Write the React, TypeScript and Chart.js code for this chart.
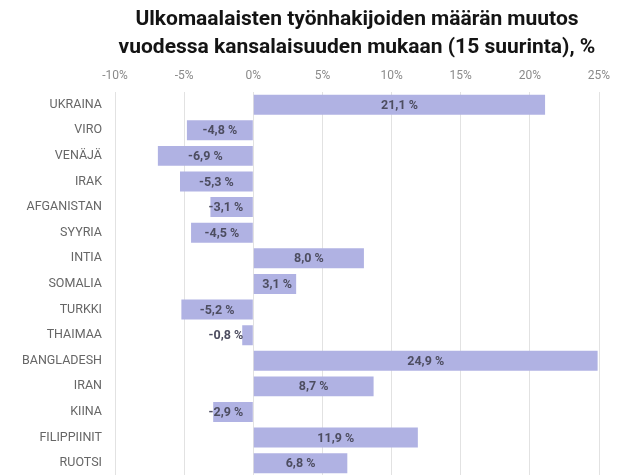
import React, { useEffect, useRef } from 'react';
import { Chart, registerables } from 'chart.js';

Chart.register(...registerables);

const titleLines = [
  'Ulkomaalaisten työnhakijoiden määrän muutos',
  'vuodessa kansalaisuuden mukaan (15 suurinta), %',
];

const categories = [
  'UKRAINA',
  'VIRO',
  'VENÄJÄ',
  'IRAK',
  'AFGANISTAN',
  'SYYRIA',
  'INTIA',
  'SOMALIA',
  'TURKKI',
  'THAIMAA',
  'BANGLADESH',
  'IRAN',
  'KIINA',
  'FILIPPIINIT',
  'RUOTSI',
];

const values = [21.1, -4.8, -6.9, -5.3, -3.1, -4.5, 8.0, 3.1, -5.2, -0.8, 24.9, 8.7, -2.9, 11.9, 6.8];

const xMin = -10;
const xMax = 25;
const xStep = 5;

const fmtValue = (v: number) => v.toFixed(1).replace('.', ',') + ' %';

export default function App() {
  const ref = useRef<HTMLCanvasElement>(null);

  useEffect(() => {
    const labelPlugin = {
      id: 'barLabels',
      afterDatasetsDraw(chart: any) {
        const ctx = chart.ctx;
        const meta = chart.getDatasetMeta(0);
        const zeroX = chart.scales.x.getPixelForValue(0);
        ctx.save();
        ctx.font = 'bold 12.5px Roboto';
        ctx.fillStyle = '#4d4d60';
        ctx.textAlign = 'left';
        ctx.textBaseline = 'middle';
        meta.data.forEach((bar: any, i: number) => {
          const v = values[i];
          const text = fmtValue(v);
          const w = ctx.measureText(text).width;
          const center = (bar.x + bar.base) / 2;
          let left = center - w / 2;
          if (v < 0) {
            if (left + w > zeroX - 10) left = zeroX - 10 - w;
          } else {
            if (left < zeroX + 9) left = zeroX + 9;
          }
          ctx.fillText(text, left, bar.y + 1);
        });
        ctx.restore();
      },
    };

    const chart = new Chart(ref.current as HTMLCanvasElement, {
      type: 'bar',
      data: {
        labels: categories,
        datasets: [
          {
            data: values,
            backgroundColor: '#b0b2e3',
            borderWidth: 0,
            categoryPercentage: 0.78,
            barPercentage: 1,
          },
        ],
      },
      options: {
        indexAxis: 'y',
        animation: false,
        responsive: false,
        devicePixelRatio: 1,
        layout: { padding: { left: 0, right: 25, top: 0, bottom: 0 } },
        plugins: {
          legend: { display: false },
          tooltip: { enabled: false },
          title: {
            display: true,
            text: titleLines,
            fullSize: false,
            color: '#141414',
            font: { family: 'Roboto', size: 21, weight: 'bold', lineHeight: 1.33 },
            padding: { top: 6, bottom: 0 },
          },
        },
        scales: {
          x: {
            position: 'top',
            min: xMin,
            max: xMax,
            ticks: {
              stepSize: xStep,
              callback: (v: any) => v + '%',
              color: '#8a8a8a',
              font: { family: 'Roboto', size: 12 },
              padding: 9,
            },
            grid: { color: '#e2e2e2', drawTicks: false },
            border: { display: false },
            afterFit: (s: any) => {
              s.height = 30;
            },
          },
          y: {
            ticks: {
              color: '#666666',
              font: { family: 'Roboto', size: 12.5 },
              padding: 13,
            },
            grid: { display: false, drawTicks: false },
            border: { display: false },
            afterFit: (s: any) => {
              s.width = 115;
              s.paddingTop = 0;
              s.paddingBottom = 0;
            },
          },
        },
      },
      plugins: [labelPlugin],
    } as any);

    return () => chart.destroy();
  }, []);

  return (
    <div style={{ position: 'absolute', left: 0, top: 0, width: 624, height: 476, background: '#fff' }}>
      <canvas ref={ref} width={624} height={476} style={{ display: 'block' }} />
    </div>
  );
}
